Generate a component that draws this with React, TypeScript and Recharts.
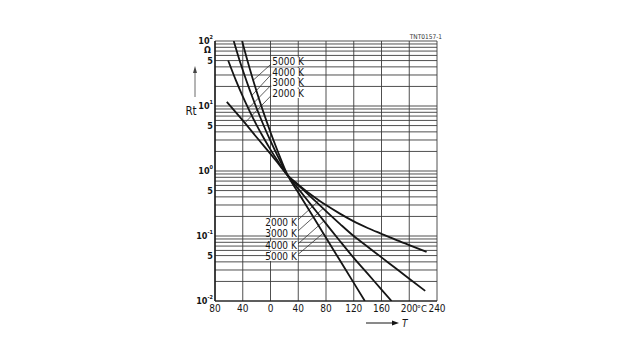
import { CartesianGrid, Customized, Line, LineChart, ReferenceDot, ReferenceLine, XAxis, YAxis } from 'recharts';

const FONT = "'Liberation Sans Narrow', 'DejaVu Sans Condensed', Arial, sans-serif";
const INK = '#151515';

// temperature in °C and Rt (normalised resistance)
const t2000 = [-63, -40, -37, -20, 0, 10, 25, 40, 60, 70, 80, 100, 120, 140, 160, 180, 200, 225];
const r2000 = [11.6, 6.0, 5.5, 3.3, 1.83, 1.35, 0.85, 0.617, 0.42, 0.353, 0.299, 0.221, 0.168, 0.133, 0.108, 0.088, 0.0725, 0.057];

const t3000 = [-61, -50, -40, -32, -30, -20, -10, 0, 10, 25, 40, 60, 80, 100, 120, 140, 160, 180, 200, 223];
const r3000 = [50.2, 25.0, 14.05, 9.17, 8.28, 5.09, 3.24, 2.13, 1.45, 0.85, 0.604, 0.383, 0.242, 0.154, 0.0998, 0.0684, 0.0469, 0.0321, 0.022, 0.0143];

const t4000 = [-53, -45, -40, -30, -27, -20, -10, 0, 10, 25, 40, 60, 80, 100, 120, 140, 160, 174.5];
const r4000 = [100, 52.1, 35.8, 17.7, 14.5, 9.23, 5.06, 2.9, 1.73, 0.85, 0.535, 0.288, 0.155, 0.0837, 0.046, 0.0263, 0.015, 0.01];

const t5000 = [-41, -35, -30, -25, -20, -10, 0, 10, 25, 40, 60, 80, 100, 120, 136];
const r5000 = [100, 58.1, 37.8, 24.9, 16.75, 7.9, 3.95, 2.07, 0.85, 0.467, 0.21, 0.0942, 0.0423, 0.019, 0.01];

const xTicks = [-80, -40, 0, 40, 80, 120, 160, 200, 240];
const xTickLabels = ['80', '40', '0', '40', '80', '120', '160', '200', '240'];

const yLabelValues = [100, 50, 10, 5, 1, 0.5, 0.1, 0.05, 0.01];
const yLabelBases = ['10', '5', '10', '5', '10', '5', '10', '5', '10'];
const yLabelExps = ['2', '', '1', '', '0', '', '-1', '', '-2'];

const decades = [0.01, 0.1, 1, 10];
const multiples = [1, 2, 3, 4, 5, 6, 7, 8, 9];
const gridTicks = decades.flatMap((d) => multiples.map((m) => +(m * d).toPrecision(3))).concat(100);

const toRows = (t: number[], r: number[]) => t.map((v, i) => ({ t: v, r: r[i] }));

const curves = [
  { name: '2000 K', data: toRows(t2000, r2000) },
  { name: '3000 K', data: toRows(t3000, r3000) },
  { name: '4000 K', data: toRows(t4000, r4000) },
  { name: '5000 K', data: toRows(t5000, r5000) },
];

// curve labels with their leader lines (data units)
const upperLabels = [
  { name: '5000 K', t: 2.5, r: 47.6, from: { t: 1, r: 44.3 }, to: { t: -25, r: 24.9 } },
  { name: '4000 K', t: 2.5, r: 32.7, from: { t: 1, r: 30.5 }, to: { t: -27, r: 14.5 } },
  { name: '3000 K', t: 2.5, r: 22.6, from: { t: 1, r: 21.0 }, to: { t: -32, r: 9.17 } },
  { name: '2000 K', t: 2.5, r: 15.6, from: { t: 1, r: 14.5 }, to: { t: -37, r: 5.5 } },
];
const lowerLabels = [
  { name: '2000 K', t: 38, r: 0.164, from: { t: 39.5, r: 0.176 }, to: { t: 70, r: 0.353 } },
  { name: '3000 K', t: 38, r: 0.111, from: { t: 39.5, r: 0.119 }, to: { t: 76, r: 0.2655 } },
  { name: '4000 K', t: 38, r: 0.0702, from: { t: 39.5, r: 0.0753 }, to: { t: 77, r: 0.1703 } },
  { name: '5000 K', t: 38, r: 0.0484, from: { t: 39.5, r: 0.0519 }, to: { t: 76, r: 0.1105 } },
];

function YTick({ x, y, payload }: any) {
  const idx = yLabelValues.findIndex((v) => Math.abs(Math.log10(v) - Math.log10(payload.value)) < 1e-6);
  if (idx < 0) return null;
  const exp = yLabelExps[idx];
  return (
    <g>
      <text x={x} y={y} textAnchor="end" dominantBaseline="central" fontFamily={FONT} fontSize={9} fontWeight="bold" fill={INK}>
        {yLabelBases[idx]}
        {exp && (
          <tspan dy={-4} fontSize={5.5}>
            {exp}
          </tspan>
        )}
      </text>
      {payload.value === 100 && (
        <text x={x - 2} y={y + 9} textAnchor="end" dominantBaseline="central" fontFamily={FONT} fontSize={9} fontWeight="bold" fill={INK}>
          Ω
        </text>
      )}
    </g>
  );
}

function XTick({ x, y, payload }: any) {
  const idx = xTicks.indexOf(payload.value);
  return (
    <g>
      <text x={x} y={y} textAnchor="middle" dominantBaseline="central" fontFamily={FONT} fontSize={10} fill={INK}>
        {xTickLabels[idx]}
      </text>
      {payload.value === 200 && (
        <text x={x + 7.5} y={y} textAnchor="start" dominantBaseline="central" fontFamily={FONT} fontSize={9.5} fill={INK}>
          °C
        </text>
      )}
    </g>
  );
}

const curveLabel = (name: string, anchor: 'start' | 'end') => (p: any) => {
  const { x, y } = p.viewBox;
  const left = anchor === 'start' ? x - 1 : x - 27;
  return (
    <g>
      <rect x={left} y={y - 4.5} width={28} height={9} fill="#fff" />
      <text x={x} y={y} textAnchor={anchor} dominantBaseline="central" fontFamily={FONT} fontSize={10} fill={INK}>
        {name}
      </text>
    </g>
  );
};

function Extras() {
  return (
    <g fontFamily={FONT} fill={INK}>
      <text x={442} y={39} textAnchor="end" fontSize={6.5} fill="#333">
        TNT0157-1
      </text>
      <line x1={195} y1={97} x2={195} y2={72} stroke="#444" strokeWidth={0.8} />
      <polygon points="193,73 197,73 195,66" fill="#444" />
      <text x={191} y={111} textAnchor="middle" dominantBaseline="central" fontSize={11.5}>
        Rt
      </text>
      <line x1={366} y1={323} x2={394} y2={323} stroke={INK} strokeWidth={1} />
      <polygon points="392,320.5 399,323 392,325.5" fill={INK} />
      <text x={402} y={323} dominantBaseline="central" fontSize={10} fontStyle="italic">
        T
      </text>
    </g>
  );
}

export default function App() {
  return (
    <div style={{ position: 'absolute', left: 0, top: 0, width: 640, height: 360, background: '#fff' }}>
      <LineChart width={640} height={360} margin={{ top: 41, right: 203, bottom: 29, left: 175 }}>
        <CartesianGrid stroke="#3c3c3c" strokeWidth={0.9} />
        <XAxis
          dataKey="t"
          type="number"
          domain={[-80, 240]}
          ticks={xTicks}
          interval={0}
          height={30}
          tickLine={false}
          tickSize={0}
          tickMargin={7}
          axisLine={{ stroke: INK, strokeWidth: 1.2 }}
          tick={(p: any) => <XTick {...p} />}
          allowDataOverflow
        />
        <YAxis
          type="number"
          scale="log"
          domain={[0.01, 100]}
          ticks={gridTicks}
          interval={0}
          width={40}
          tickLine={false}
          tickSize={0}
          tickMargin={2}
          axisLine={{ stroke: INK, strokeWidth: 1.4 }}
          tick={(p: any) => <YTick {...p} />}
          allowDataOverflow
        />
        {[...upperLabels, ...lowerLabels].map((l, i) => (
          <ReferenceLine
            key={`leader-${i}`}
            segment={[
              { x: l.from.t, y: l.from.r },
              { x: l.to.t, y: l.to.r },
            ]}
            stroke="#333"
            strokeWidth={0.8}
          />
        ))}
        {upperLabels.map((l) => (
          <ReferenceDot key={`u-${l.name}`} x={l.t} y={l.r} r={0} stroke="none" fill="none" label={curveLabel(l.name, 'start')} />
        ))}
        {lowerLabels.map((l) => (
          <ReferenceDot key={`l-${l.name}`} x={l.t} y={l.r} r={0} stroke="none" fill="none" label={curveLabel(l.name, 'end')} />
        ))}
        {curves.map((c) => (
          <Line
            key={c.name}
            data={c.data}
            dataKey="r"
            type="monotone"
            dot={false}
            stroke={INK}
            strokeWidth={1.8}
            isAnimationActive={false}
          />
        ))}
        <Customized component={Extras} />
      </LineChart>
    </div>
  );
}
